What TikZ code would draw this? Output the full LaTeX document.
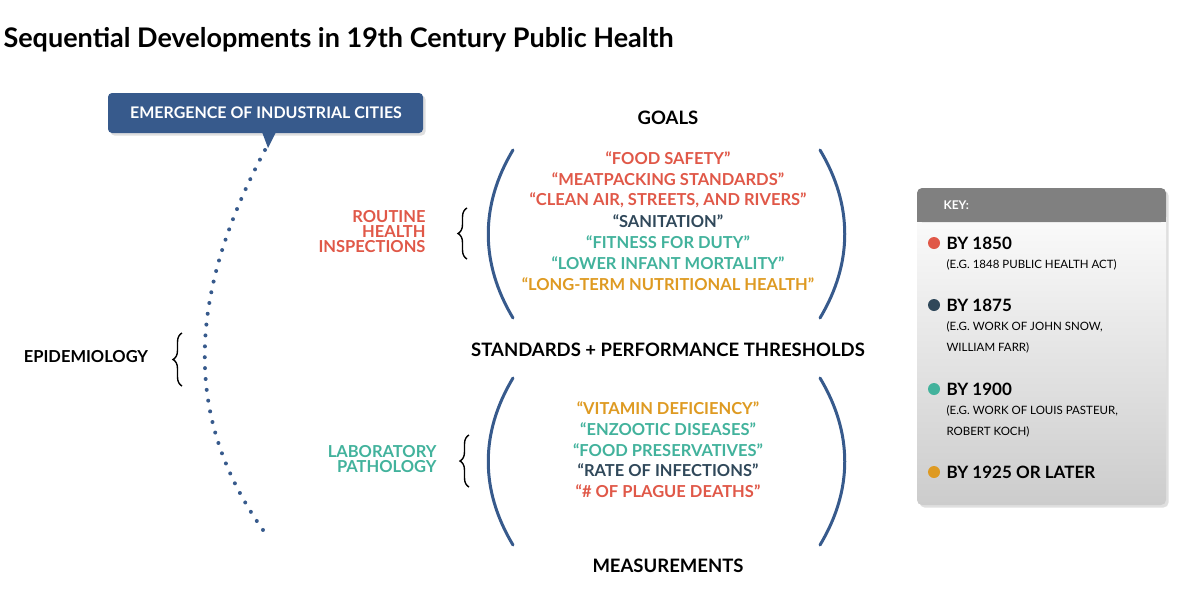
\documentclass[tikz,border=0pt]{standalone}
\usepackage{fontspec}
\setmainfont{Lato}
\usetikzlibrary{decorations.pathreplacing,shadows}
\definecolor{rojito}{RGB}{224,88,72}
\definecolor{oscurito}{RGB}{48,72,90}
\definecolor{verdecito}{RGB}{66,178,156}
\definecolor{naranjita}{RGB}{222,154,34}
\definecolor{azulcito}{RGB}{55,90,140}
\tikzset{
  item/.style={font=\bfseries\fontsize{16.5}{16.5}\selectfont, anchor=center},
  head/.style={font=\bfseries\fontsize{18.5}{18.5}\selectfont, anchor=center},
  side/.style={font=\bfseries\fontsize{16.5}{15}\selectfont, align=right, anchor=east},
  paren/.style={azulcito, line width=3pt, line cap=round},
  curly/.style={decorate, decoration={brace, amplitude=9pt}, line width=1.4pt},
  keytop/.style={font=\bfseries\fontsize{17}{17}\selectfont, anchor=west},
  keysub/.style={font=\fontsize{11.5}{11.5}\selectfont, anchor=west},
  keydot/.style={circle, inner sep=0pt, minimum size=12pt}
}
\begin{document}
\begin{tikzpicture}[x=1pt,y=-1pt]
  \useasboundingbox (0,0) rectangle (1200,614);

  \node[anchor=west, font=\bfseries\fontsize{27}{27}\selectfont] (title) at (0,40) {Sequential Developments in 19th Century Public Health};

  % callout
  \fill[azulcito, rounded corners=4pt, drop shadow={opacity=0.25}] (108,93) rectangle (423,133);
  \fill[azulcito] (262,132) -- (276,132) -- (268,148) -- cycle;
  \node[white, font=\bfseries\fontsize{16}{16}\selectfont] (cities) at (266,113) {EMERGENCE OF INDUSTRIAL CITIES};
  \coordinate (tail) at (265,150);
  \coordinate (dotend) at (263,530);
  \draw[azulcito, line width=4pt, line cap=round, dash pattern=on 0pt off 10.9pt]
    (tail) .. controls (185,300) and (185,420) .. (dotend);

  \node[font=\bfseries\fontsize{16.5}{16.5}\selectfont] (epi) at (86,357) {EPIDEMIOLOGY};
  \draw[curly] (182,386) -- (182,333);

  % goals
  \node[head] (goals) at (668,118) {GOALS};
  \draw[paren] (513,150) .. controls (480,205) and (480,263) .. (513,318);
  \draw[paren] (820,150) .. controls (853,205) and (853,263) .. (820,318);
  \node[item, rojito] (g1) at (668,158) {“FOOD SAFETY”};
  \node[item, rojito] (g2) at (668,179) {“MEATPACKING STANDARDS”};
  \node[item, rojito] (g3) at (668,200) {“CLEAN AIR, STREETS, AND RIVERS”};
  \node[item, oscurito] (g4) at (668,221) {“SANITATION”};
  \node[item, verdecito] (g5) at (668,242) {“FITNESS FOR DUTY”};
  \node[item, verdecito] (g6) at (668,263) {“LOWER INFANT MORTALITY”};
  \node[item, naranjita] (g7) at (668,284) {“LONG-TERM NUTRITIONAL HEALTH”};
  \node[side, rojito] (routine) at (429,232) {ROUTINE\\HEALTH\\INSPECTIONS};
  \draw[curly] (467,259) -- (467,208);

  \node[head] (thresh) at (668,350) {STANDARDS + PERFORMANCE THRESHOLDS};

  % measurements
  \draw[paren] (513,378) .. controls (480,433) and (480,490) .. (513,545);
  \draw[paren] (820,378) .. controls (853,433) and (853,490) .. (820,545);
  \node[item, naranjita] (m1) at (668,408) {“VITAMIN DEFICIENCY”};
  \node[item, verdecito] (m2) at (668,429) {“ENZOOTIC DISEASES”};
  \node[item, verdecito] (m3) at (668,450) {“FOOD PRESERVATIVES”};
  \node[item, oscurito] (m4) at (668,470) {“RATE OF INFECTIONS”};
  \node[item, rojito] (m5) at (668,491) {“\# OF PLAGUE DEATHS”};
  \node[side, verdecito] (lab) at (440,459) {LABORATORY\\PATHOLOGY};
  \draw[curly] (469,487) -- (469,435);
  \node[head] (meas) at (668,566) {MEASUREMENTS};

  % key
  \shade[top color=white, bottom color=black!20, rounded corners=5pt, drop shadow={opacity=0.25}] (917,188) rectangle (1166,505);
  \fill[black!50, rounded corners=5pt] (917,188) rectangle (1166,222);
  \fill[black!50] (917,205) rectangle (1166,222);
  \node[white, font=\bfseries\fontsize{12}{12}\selectfont, anchor=west] (key) at (940,205) {KEY:};
  \node[keydot, fill=rojito] (d1) at (934,243) {};
  \node[keytop] (k1) at (943,243) {BY 1850};
  \node[keysub] (s1) at (943,265) {(E.G. 1848 PUBLIC HEALTH ACT)};
  \node[keydot, fill=oscurito] (d2) at (934,305) {};
  \node[keytop] (k2) at (943,305) {BY 1875};
  \node[keysub] (s2) at (943,327) {(E.G. WORK OF JOHN SNOW,};
  \node[keysub] (s2b) at (943,348) {WILLIAM FARR)};
  \node[keydot, fill=verdecito] (d3) at (934,389) {};
  \node[keytop] (k3) at (943,389) {BY 1900};
  \node[keysub] (s3) at (943,411) {(E.G. WORK OF LOUIS PASTEUR,};
  \node[keysub] (s3b) at (943,432) {ROBERT KOCH)};
  \node[keydot, fill=naranjita] (d4) at (934,472) {};
  \node[keytop] (k4) at (943,472) {BY 1925 OR LATER};
\end{tikzpicture}
\end{document}
